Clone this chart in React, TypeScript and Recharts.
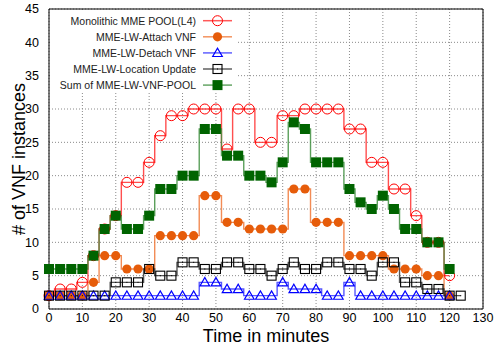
import React from 'react';
import { CartesianGrid, Line, LineChart, ReferenceLine, XAxis, YAxis } from 'recharts';

// sample times (minutes), one marker every 10/3 min
const minutes = [
  0, 3.33, 6.67, 10, 13.33, 16.67, 20, 23.33, 26.67, 30, 33.33, 36.67, 40, 43.33, 46.67, 50, 53.33, 56.67, 60,
  63.33, 66.67, 70, 73.33, 76.67, 80, 83.33, 86.67, 90, 93.33, 96.67, 100, 103.33, 106.67, 110, 113.33, 116.67,
  120, 123.33,
];

const monolithic = [
  2, 3, 3, 4, 8, 12, 14, 19, 19, 22, 26, 29, 29, 30, 30, 30, 24, 30, 30, 25, 25, 29, 29, 30, 30, 30, 30, 27, 27,
  22, 22, 18, 18, 14, 10, 10, 5,
];
const attach = [
  2, 2, 2, 2, 4, 8, 8, 6, 6, 6, 11, 11, 11, 11, 17, 17, 13, 13, 12, 12, 12, 12, 18, 18, 13, 13, 13, 8, 8, 8, 8, 6,
  6, 6, 5, 5, 2,
];
const detach = [
  2, 2, 2, 2, 2, 2, 2, 2, 2, 2, 2, 2, 2, 2, 4, 4, 3, 3, 2, 2, 2, 4, 3, 3, 3, 2, 2, 4, 2, 2, 2, 2, 2, 2, 2, 2, 2,
];
const location = [
  2, 2, 2, 2, 2, 2, 4, 4, 4, 6, 5, 5, 7, 7, 6, 6, 7, 7, 6, 6, 5, 6, 7, 6, 6, 7, 7, 6, 6, 5, 7, 7, 4, 4, 3, 3, 2, 2,
];
const vnfPool = [
  6, 6, 6, 6, 8, 12, 14, 12, 12, 14, 18, 18, 20, 20, 27, 27, 23, 23, 20, 20, 19, 22, 28, 27, 22, 22, 22, 18, 16,
  15, 17, 15, 12, 12, 10, 10, 6,
];

const xTicks = [0, 10, 20, 30, 40, 50, 60, 70, 80, 90, 100, 110, 120, 130];
const yTicks = [0, 5, 10, 15, 20, 25, 30, 35, 40, 45];

const data = minutes.map((t, i) => ({
  t,
  mono: monolithic[i] ?? null,
  attach: attach[i] ?? null,
  detach: detach[i] ?? null,
  loc: location[i] ?? null,
  pool: vnfPool[i] ?? null,
}));

type Kind = 'openCircle' | 'dot' | 'triangle' | 'square' | 'filledSquare';

function Marker({ kind, x, y, color }: { kind: Kind; x: number; y: number; color: string }) {
  switch (kind) {
    case 'openCircle':
      return <circle cx={x} cy={y} r={5} fill="none" stroke={color} strokeWidth={1} />;
    case 'dot':
      return <circle cx={x} cy={y} r={4.6} fill={color} />;
    case 'triangle':
      return (
        <path
          d={`M${x - 4.8},${y + 3.6}L${x + 4.8},${y + 3.6}L${x},${y - 4.8}Z`}
          fill="none"
          stroke={color}
          strokeWidth={1.2}
        />
      );
    case 'square':
      return (
        <g>
          <rect x={x - 4.5} y={y - 4.5} width={9} height={9} fill="none" stroke={color} strokeWidth={1.1} />
          <rect x={x - 0.5} y={y - 0.5} width={1} height={1} fill={color} />
        </g>
      );
    default:
      return <rect x={x - 5} y={y - 5} width={10} height={10} fill={color} />;
  }
}

const series = [
  { key: 'mono', name: 'Monolithic MME POOL(L4)', line: '#ff3030', mark: '#ff0000', kind: 'openCircle' as Kind },
  { key: 'attach', name: 'MME-LW-Attach VNF', line: '#f07838', mark: '#e65c0a', kind: 'dot' as Kind },
  { key: 'detach', name: 'MME-LW-Detach VNF', line: '#3a3aff', mark: '#0000ff', kind: 'triangle' as Kind },
  { key: 'loc', name: 'MME-LW-Location Update', line: '#3a3a3a', mark: '#000000', kind: 'square' as Kind },
  { key: 'pool', name: 'Sum of MME-LW-VNF-POOL', line: '#3f8f3f', mark: '#006400', kind: 'filledSquare' as Kind },
];

const font = '"Liberation Sans", Arial, Helvetica, sans-serif';

function LegendBox() {
  return (
    <svg width={495} height={345} style={{ position: 'absolute', left: 0, top: 0, pointerEvents: 'none' }}>
      <rect x={50} y={10} width={186} height={83} fill="#fff" />
      {series.map((s, i) => {
        const y = 20.7 + i * 16.1;
        return (
          <g key={s.key}>
            <text
              x={196}
              y={y}
              textAnchor="end"
              dominantBaseline="central"
              fontSize={10.5}
              fontFamily={font}
              fill="#222"
            >
              {s.name}
            </text>
            <line x1={203} x2={232} y1={y} y2={y} stroke={s.line} strokeWidth={1.5} strokeOpacity={0.8} />
            <Marker kind={s.kind} x={217.5} y={y} color={s.mark} />
          </g>
        );
      })}
    </svg>
  );
}

export default function App() {
  return (
    <div style={{ position: 'absolute', left: 0, top: 0, width: 495, height: 345, background: '#fff' }}>
      <LineChart width={495} height={345} data={data} margin={{ top: 9, right: 12, bottom: 0, left: 0 }}>
        <CartesianGrid stroke="#8a8a8a" strokeDasharray="1 2" />
        <XAxis
          dataKey="t"
          type="number"
          domain={[0, 130]}
          ticks={xTicks}
          height={36}
          tickSize={0}
          tickMargin={4}
          axisLine={{ stroke: '#000' }}
          tick={{ fontSize: 12.5, fill: '#000', fontFamily: font }}
          label={{
            value: 'Time in minutes',
            position: 'insideBottom',
            offset: 3,
            fontSize: 18,
            fill: '#000',
            fontFamily: font,
          }}
        />
        <YAxis
          type="number"
          domain={[0, 45]}
          ticks={yTicks}
          width={49}
          tickSize={0}
          tickMargin={10}
          axisLine={{ stroke: '#000' }}
          tick={{ fontSize: 12.5, fill: '#000', fontFamily: font }}
          label={{
            content: ({ viewBox }: any) => {
              const cy = viewBox.y + viewBox.height / 2;
              return (
                <text
                  x={25}
                  y={cy}
                  transform={`rotate(-90 25 ${cy})`}
                  textAnchor="middle"
                  fontSize={18}
                  fontFamily={font}
                  fill="#000"
                >
                  # of VNF instances
                </text>
              );
            },
          }}
        />
        <ReferenceLine y={45} stroke="#000" />
        <ReferenceLine x={130} stroke="#000" />
        {series.map((s) => (
          <Line
            key={s.key}
            dataKey={s.key}
            name={s.name}
            type="step"
            stroke={s.line}
            strokeOpacity={0.85}
            strokeWidth={1.4}
            isAnimationActive={false}
            connectNulls={false}
            activeDot={false}
            dot={(p: any) =>
              p.cx == null || p.cy == null || p.value == null ? (
                <g key={`${s.key}-${p.index}`} />
              ) : (
                <g key={`${s.key}-${p.index}`}>
                  <Marker kind={s.kind} x={p.cx} y={p.cy} color={s.mark} />
                </g>
              )
            }
          />
        ))}
      </LineChart>
      <LegendBox />
    </div>
  );
}
